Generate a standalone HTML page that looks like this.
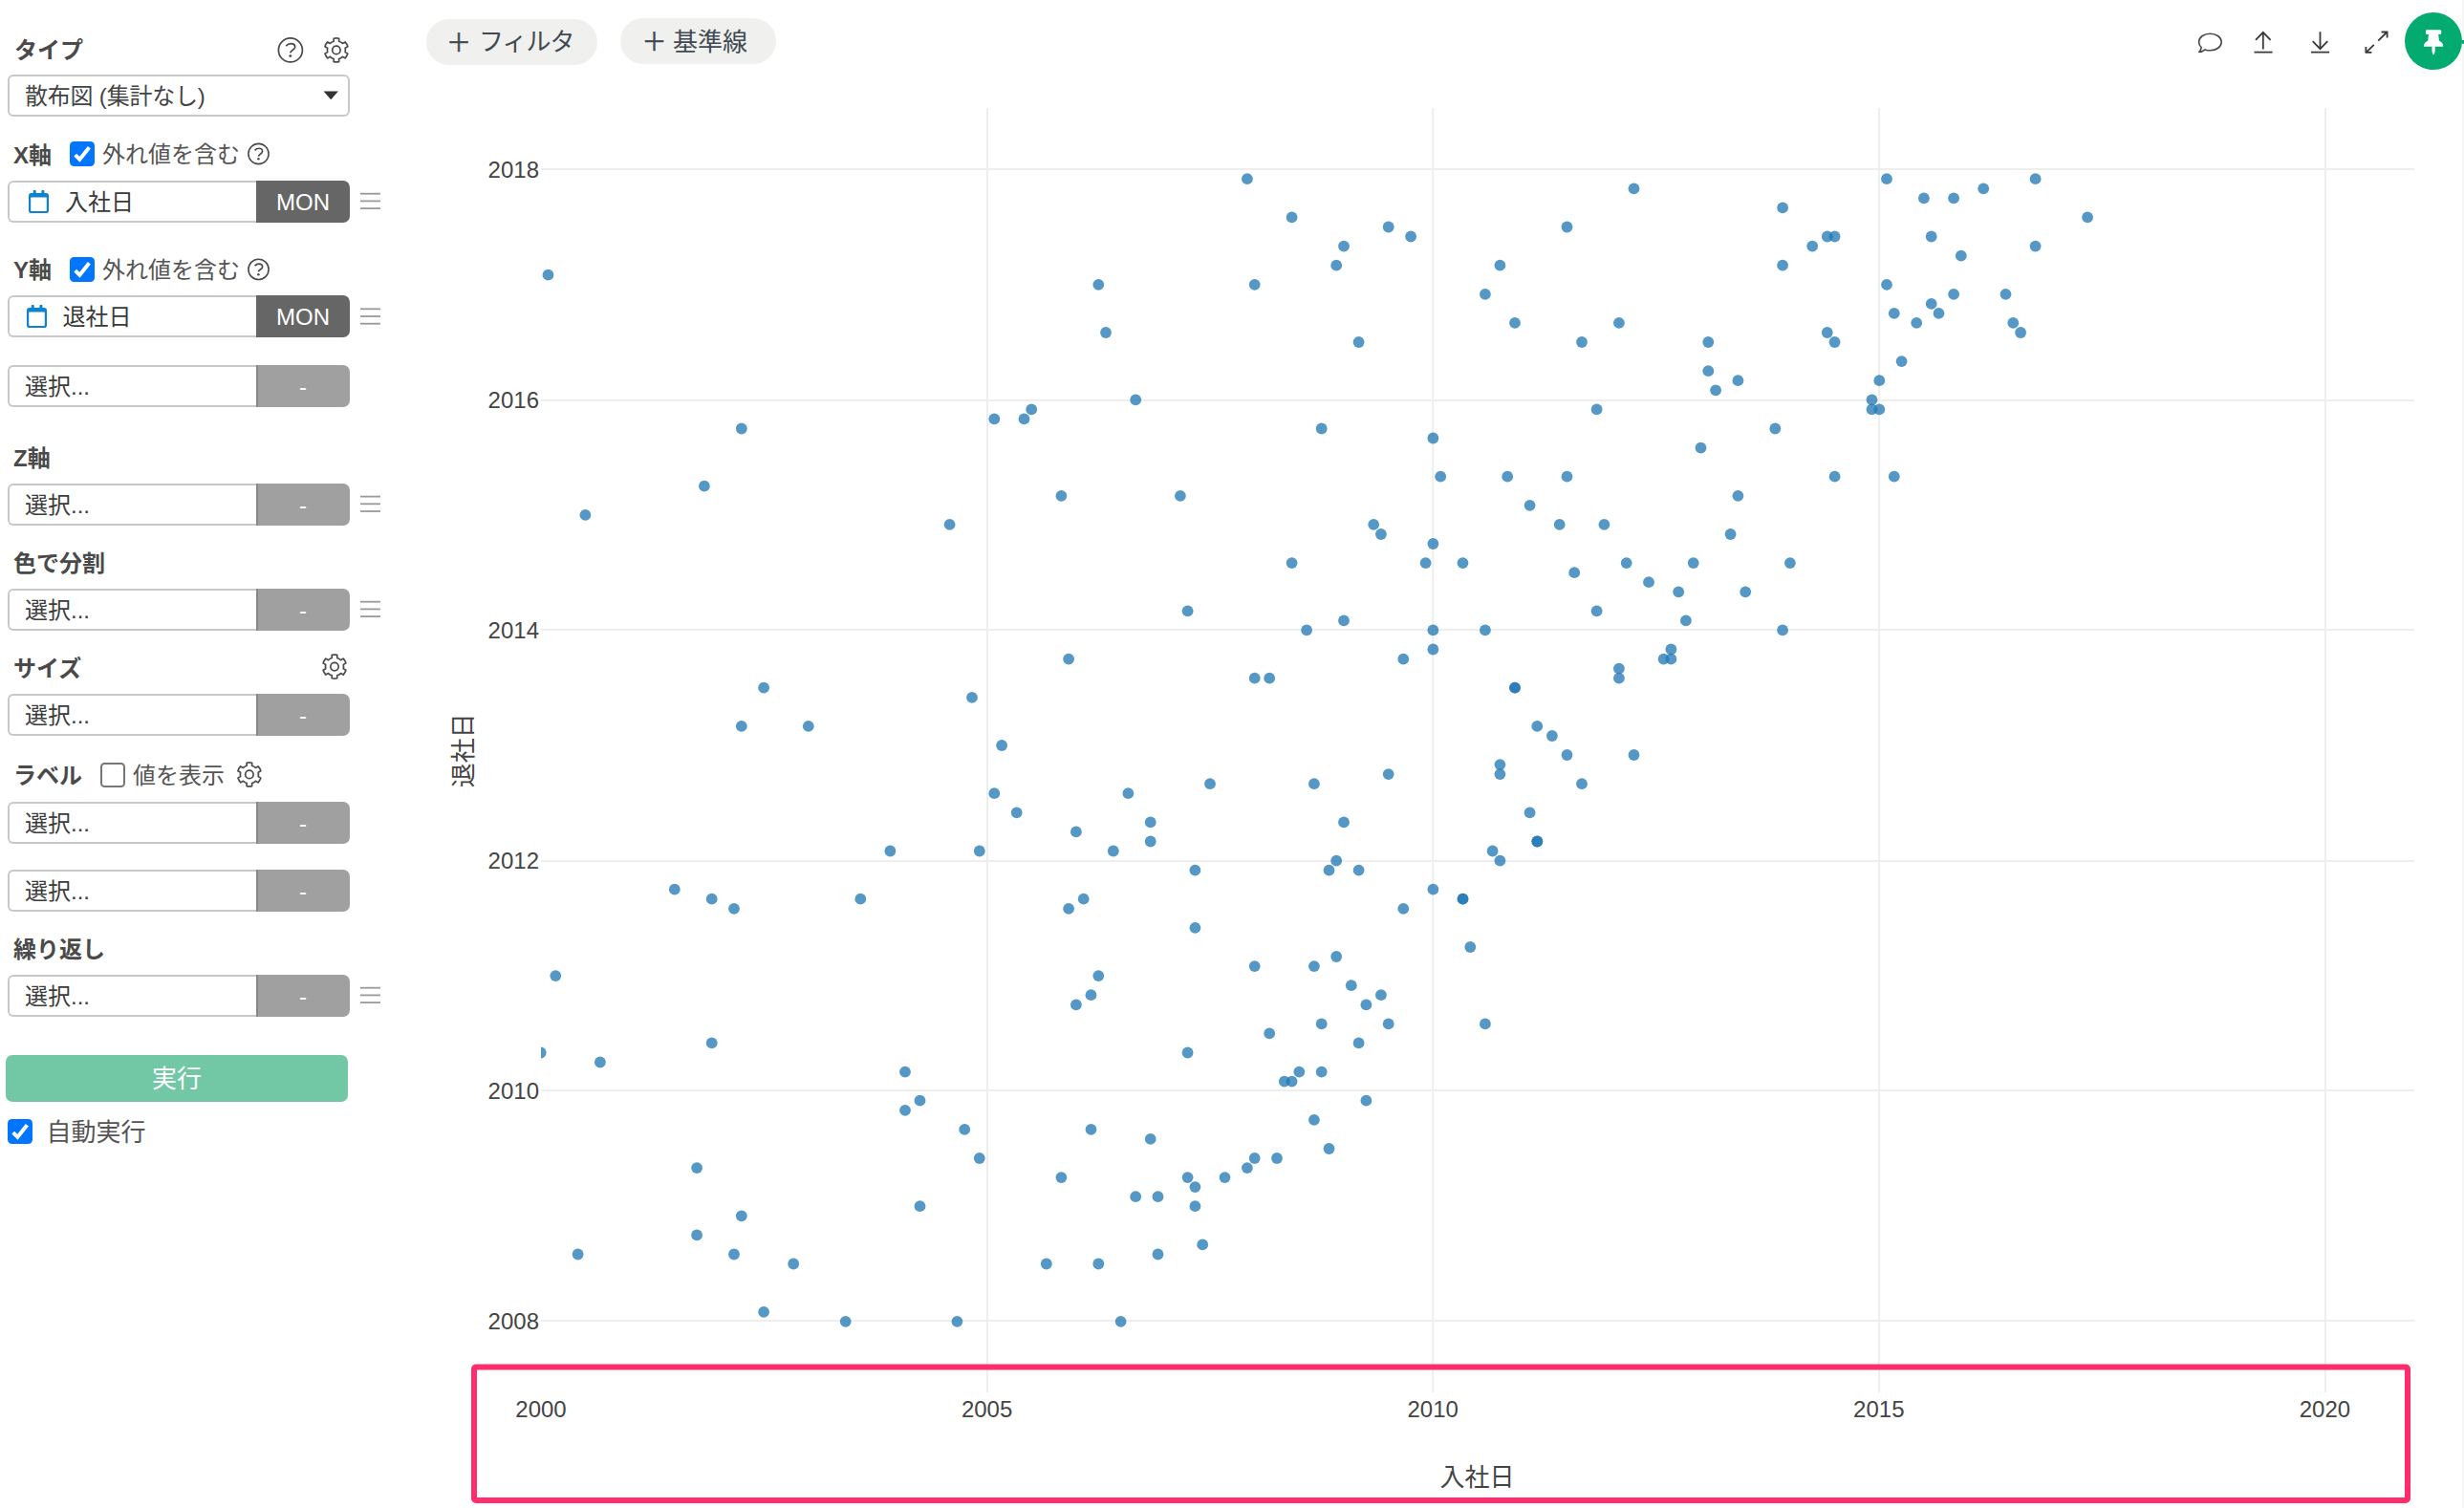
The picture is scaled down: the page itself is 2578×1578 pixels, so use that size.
<!DOCTYPE html><html lang="ja"><head><meta charset="utf-8"><title>散布図</title><style>
html,body{margin:0;padding:0;background:#fff}
body{width:2578px;height:1578px;position:relative;overflow:hidden;font-family:"Liberation Sans","Noto Sans CJK JP",sans-serif;color:#444}
.abs{position:absolute}
.lbl{position:absolute;font-weight:bold;font-size:24px;line-height:32px;height:32px;color:#4a4a4a;white-space:nowrap}
.txt{position:absolute;font-size:24px;line-height:32px;height:32px;color:#555;white-space:nowrap}
.fld{position:absolute;left:8px;width:358px;height:44px}
.fld .inp{position:absolute;left:0;top:0;width:260px;height:44px;box-sizing:border-box;border:2px solid #c8c8c8;border-right:none;border-radius:6px 0 0 6px;background:#fff;font-size:24px;line-height:43px;color:#3c3c3c;white-space:nowrap}
.fld .btn{position:absolute;left:260px;top:0;width:98px;height:44px;border-radius:0 7px 7px 0;background:#a0a0a0;color:#fff;font-size:24px;line-height:46px;text-align:center;box-sizing:border-box;border-left:2px solid #888;padding-right:2px}
.fld .btn.on{background:#666;border-left:none;padding-right:0}
.sel{position:absolute;left:8px;top:78px;width:358px;height:44px;box-sizing:border-box;border:2px solid #c8c8c8;border-radius:6px;background:#fff;font-size:24px;line-height:43px;color:#444;white-space:nowrap}
.cb{position:absolute;width:26px;height:26px;border-radius:4.5px;background:#0075ff}
.cb0{position:absolute;width:26px;height:26px;box-sizing:border-box;border-radius:4.5px;border:2px solid #767676;background:#fff}
.pill{position:absolute;height:48px;border-radius:24px;background:#f0f0ee;color:#414a52;font-size:26px;line-height:46px;white-space:nowrap}
.run{position:absolute;left:6px;top:1104px;width:358px;height:49px;border-radius:7px;background:#72c8a4;color:#fff;font-size:26px;line-height:51px;text-align:center}
</style></head><body>
<div class="lbl" style="left:15px;top:36.5px">タイプ</div>
<div class="sel"><span style="position:absolute;left:16px;top:-1px;letter-spacing:-0.2px">散布図 (集計なし)</span></div>
<div class="lbl" style="left:14px;top:146.5px">X軸</div>
<div class="cb" style="left:73px;top:148px"><svg width="26" height="26" viewBox="0 0 26 26" style="position:absolute;left:0;top:0"><path d="M5.7 14.1L10.4 18.8L20.4 6.2" fill="none" stroke="#fff" stroke-width="4" stroke-linecap="butt" stroke-linejoin="miter"/></svg></div>
<div class="txt" style="left:107px;top:146px">外れ値を含む</div>
<div class="fld" style="top:189px"><div class="inp"><span style="position:absolute;left:58px;top:-1px;color:#3a3a3a">入社日</span></div><div class="btn on">MON</div></div>
<div class="lbl" style="left:14px;top:267px">Y軸</div>
<div class="cb" style="left:73px;top:269px"><svg width="26" height="26" viewBox="0 0 26 26" style="position:absolute;left:0;top:0"><path d="M5.7 14.1L10.4 18.8L20.4 6.2" fill="none" stroke="#fff" stroke-width="4" stroke-linecap="butt" stroke-linejoin="miter"/></svg></div>
<div class="txt" style="left:107px;top:267px">外れ値を含む</div>
<div class="fld" style="top:309px"><div class="inp"><span style="position:absolute;left:55.5px;top:-1px;color:#3a3a3a">退社日</span></div><div class="btn on">MON</div></div>
<div class="fld" style="top:382px"><div class="inp"><span style="position:absolute;left:16px;top:-1px">選択...</span></div><div class="btn">-</div></div>
<div class="lbl" style="left:14px;top:464px">Z軸</div>
<div class="fld" style="top:506px"><div class="inp"><span style="position:absolute;left:16px;top:-1px">選択...</span></div><div class="btn">-</div></div>
<div class="lbl" style="left:14px;top:574px">色で分割</div>
<div class="fld" style="top:616px"><div class="inp"><span style="position:absolute;left:16px;top:-1px">選択...</span></div><div class="btn">-</div></div>
<div class="lbl" style="left:14px;top:683.5px">サイズ</div>
<div class="fld" style="top:726px"><div class="inp"><span style="position:absolute;left:16px;top:-1px">選択...</span></div><div class="btn">-</div></div>
<div class="lbl" style="left:14px;top:796px">ラベル</div>
<div class="cb0" style="left:105px;top:798px"></div>
<div class="txt" style="left:139px;top:796px">値を表示</div>
<div class="fld" style="top:839px"><div class="inp"><span style="position:absolute;left:16px;top:-1px">選択...</span></div><div class="btn">-</div></div>
<div class="fld" style="top:910px"><div class="inp"><span style="position:absolute;left:16px;top:-1px">選択...</span></div><div class="btn">-</div></div>
<div class="lbl" style="left:14px;top:978px">繰り返し</div>
<div class="fld" style="top:1020px"><div class="inp"><span style="position:absolute;left:16px;top:-1px">選択...</span></div><div class="btn">-</div></div>
<div class="run">実行</div>
<div class="cb" style="left:8px;top:1171px"><svg width="26" height="26" viewBox="0 0 26 26" style="position:absolute;left:0;top:0"><path d="M5.7 14.1L10.4 18.8L20.4 6.2" fill="none" stroke="#fff" stroke-width="4" stroke-linecap="butt" stroke-linejoin="miter"/></svg></div>
<div class="txt" style="left:48.5px;top:1168px;font-size:26px;line-height:34px;height:34px">自動実行</div>
<div class="pill" style="left:446px;top:20px;width:179px"><span style="position:absolute;left:21px;top:2px;-webkit-text-stroke:0.5px #414a52">＋</span><span style="position:absolute;left:55px;top:1px;letter-spacing:-1px">フィルタ</span></div>
<div class="pill" style="left:649px;top:19px;width:163px"><span style="position:absolute;left:22.5px;top:2px;-webkit-text-stroke:0.5px #414a52">＋</span><span style="position:absolute;left:55px;top:1.5px">基準線</span></div>
<svg class="abs" style="left:0;top:0" width="2578" height="1578" viewBox="0 0 2578 1578"><g stroke="#eeeeee" stroke-width="2" fill="none"><path d="M566 1382.0H2526"/><path d="M566 1141.0H2526"/><path d="M566 901.0H2526"/><path d="M566 659.0H2526"/><path d="M566 419.0H2526"/><path d="M566 177.0H2526"/><path d="M1033.0 113V1457"/><path d="M1499.2 113V1457"/><path d="M1966.0 113V1457"/><path d="M2433.0 113V1457"/></g><defs><clipPath id="pc"><rect x="566" y="113" width="1960" height="1344"/></clipPath></defs><g clip-path="url(#pc)" fill="#1f77b4" fill-opacity="0.76"><circle cx="565.7" cy="1101.5" r="5.9"/><circle cx="573.5" cy="287.7" r="5.9"/><circle cx="581.3" cy="1021.1" r="5.9"/><circle cx="604.6" cy="1312.5" r="5.9"/><circle cx="612.4" cy="538.9" r="5.9"/><circle cx="627.9" cy="1111.5" r="5.9"/><circle cx="705.8" cy="930.7" r="5.9"/><circle cx="729.1" cy="1292.4" r="5.9"/><circle cx="729.1" cy="1222.1" r="5.9"/><circle cx="736.9" cy="508.7" r="5.9"/><circle cx="744.7" cy="1091.4" r="5.9"/><circle cx="744.7" cy="940.7" r="5.9"/><circle cx="768.0" cy="1312.5" r="5.9"/><circle cx="768.0" cy="950.8" r="5.9"/><circle cx="775.8" cy="1272.3" r="5.9"/><circle cx="775.8" cy="759.9" r="5.9"/><circle cx="775.8" cy="448.5" r="5.9"/><circle cx="799.1" cy="1372.8" r="5.9"/><circle cx="799.1" cy="719.7" r="5.9"/><circle cx="830.2" cy="1322.5" r="5.9"/><circle cx="845.8" cy="759.9" r="5.9"/><circle cx="884.7" cy="1382.8" r="5.9"/><circle cx="900.3" cy="940.7" r="5.9"/><circle cx="931.4" cy="890.5" r="5.9"/><circle cx="947.0" cy="1161.8" r="5.9"/><circle cx="947.0" cy="1121.6" r="5.9"/><circle cx="962.5" cy="1262.2" r="5.9"/><circle cx="962.5" cy="1151.7" r="5.9"/><circle cx="993.6" cy="548.9" r="5.9"/><circle cx="1001.4" cy="1382.8" r="5.9"/><circle cx="1009.2" cy="1181.9" r="5.9"/><circle cx="1017.0" cy="729.8" r="5.9"/><circle cx="1024.8" cy="1212.0" r="5.9"/><circle cx="1024.8" cy="890.5" r="5.9"/><circle cx="1040.3" cy="830.2" r="5.9"/><circle cx="1040.3" cy="438.4" r="5.9"/><circle cx="1048.1" cy="780.0" r="5.9"/><circle cx="1063.7" cy="850.3" r="5.9"/><circle cx="1071.5" cy="438.4" r="5.9"/><circle cx="1079.2" cy="428.4" r="5.9"/><circle cx="1094.8" cy="1322.5" r="5.9"/><circle cx="1110.4" cy="1232.1" r="5.9"/><circle cx="1110.4" cy="518.8" r="5.9"/><circle cx="1118.1" cy="950.8" r="5.9"/><circle cx="1118.1" cy="689.6" r="5.9"/><circle cx="1125.9" cy="1051.3" r="5.9"/><circle cx="1125.9" cy="870.4" r="5.9"/><circle cx="1133.7" cy="940.7" r="5.9"/><circle cx="1141.5" cy="1181.9" r="5.9"/><circle cx="1141.5" cy="1041.2" r="5.9"/><circle cx="1149.3" cy="1322.5" r="5.9"/><circle cx="1149.3" cy="1021.1" r="5.9"/><circle cx="1149.3" cy="297.8" r="5.9"/><circle cx="1157.0" cy="348.0" r="5.9"/><circle cx="1164.8" cy="890.5" r="5.9"/><circle cx="1172.6" cy="1382.8" r="5.9"/><circle cx="1180.4" cy="830.2" r="5.9"/><circle cx="1188.2" cy="1252.2" r="5.9"/><circle cx="1188.2" cy="418.3" r="5.9"/><circle cx="1203.7" cy="1191.9" r="5.9"/><circle cx="1203.7" cy="880.5" r="5.9"/><circle cx="1203.7" cy="860.4" r="5.9"/><circle cx="1211.5" cy="1312.5" r="5.9"/><circle cx="1211.5" cy="1252.2" r="5.9"/><circle cx="1234.9" cy="518.8" r="5.9"/><circle cx="1242.6" cy="1232.1" r="5.9"/><circle cx="1242.6" cy="1101.5" r="5.9"/><circle cx="1242.6" cy="639.3" r="5.9"/><circle cx="1250.4" cy="1262.2" r="5.9"/><circle cx="1250.4" cy="1242.1" r="5.9"/><circle cx="1250.4" cy="970.9" r="5.9"/><circle cx="1250.4" cy="910.6" r="5.9"/><circle cx="1258.2" cy="1302.4" r="5.9"/><circle cx="1266.0" cy="820.2" r="5.9"/><circle cx="1281.5" cy="1232.1" r="5.9"/><circle cx="1304.9" cy="1222.1" r="5.9"/><circle cx="1304.9" cy="187.2" r="5.9"/><circle cx="1312.7" cy="1212.0" r="5.9"/><circle cx="1312.7" cy="1011.1" r="5.9"/><circle cx="1312.7" cy="709.7" r="5.9"/><circle cx="1312.7" cy="297.8" r="5.9"/><circle cx="1328.2" cy="1081.4" r="5.9"/><circle cx="1328.2" cy="709.7" r="5.9"/><circle cx="1336.0" cy="1212.0" r="5.9"/><circle cx="1343.8" cy="1131.6" r="5.9"/><circle cx="1351.6" cy="1131.6" r="5.9"/><circle cx="1351.6" cy="589.1" r="5.9"/><circle cx="1351.6" cy="227.4" r="5.9"/><circle cx="1359.3" cy="1121.6" r="5.9"/><circle cx="1367.1" cy="659.4" r="5.9"/><circle cx="1374.9" cy="1171.8" r="5.9"/><circle cx="1374.9" cy="1011.1" r="5.9"/><circle cx="1374.9" cy="820.2" r="5.9"/><circle cx="1382.7" cy="1121.6" r="5.9"/><circle cx="1382.7" cy="1071.4" r="5.9"/><circle cx="1382.7" cy="448.5" r="5.9"/><circle cx="1390.5" cy="1202.0" r="5.9"/><circle cx="1390.5" cy="910.6" r="5.9"/><circle cx="1398.2" cy="1001.0" r="5.9"/><circle cx="1398.2" cy="900.6" r="5.9"/><circle cx="1398.2" cy="277.7" r="5.9"/><circle cx="1406.0" cy="860.4" r="5.9"/><circle cx="1406.0" cy="649.4" r="5.9"/><circle cx="1406.0" cy="257.6" r="5.9"/><circle cx="1413.8" cy="1031.2" r="5.9"/><circle cx="1421.6" cy="1091.4" r="5.9"/><circle cx="1421.6" cy="910.6" r="5.9"/><circle cx="1421.6" cy="358.0" r="5.9"/><circle cx="1429.4" cy="1151.7" r="5.9"/><circle cx="1429.4" cy="1051.3" r="5.9"/><circle cx="1437.2" cy="548.9" r="5.9"/><circle cx="1444.9" cy="1041.2" r="5.9"/><circle cx="1444.9" cy="559.0" r="5.9"/><circle cx="1452.7" cy="1071.4" r="5.9"/><circle cx="1452.7" cy="810.1" r="5.9"/><circle cx="1452.7" cy="237.5" r="5.9"/><circle cx="1468.3" cy="950.8" r="5.9"/><circle cx="1468.3" cy="689.6" r="5.9"/><circle cx="1476.1" cy="247.5" r="5.9"/><circle cx="1491.6" cy="589.1" r="5.9"/><circle cx="1499.4" cy="930.7" r="5.9"/><circle cx="1499.4" cy="679.5" r="5.9"/><circle cx="1499.4" cy="659.4" r="5.9"/><circle cx="1499.4" cy="569.0" r="5.9"/><circle cx="1499.4" cy="458.5" r="5.9"/><circle cx="1507.2" cy="498.7" r="5.9"/><circle cx="1530.5" cy="940.7" r="5.9"/><circle cx="1530.5" cy="940.7" r="5.9"/><circle cx="1530.5" cy="589.1" r="5.9"/><circle cx="1538.3" cy="991.0" r="5.9"/><circle cx="1553.9" cy="1071.4" r="5.9"/><circle cx="1553.9" cy="659.4" r="5.9"/><circle cx="1553.9" cy="307.8" r="5.9"/><circle cx="1561.6" cy="890.5" r="5.9"/><circle cx="1569.4" cy="900.6" r="5.9"/><circle cx="1569.4" cy="810.1" r="5.9"/><circle cx="1569.4" cy="800.1" r="5.9"/><circle cx="1569.4" cy="277.7" r="5.9"/><circle cx="1577.2" cy="498.7" r="5.9"/><circle cx="1585.0" cy="719.7" r="5.9"/><circle cx="1585.0" cy="719.7" r="5.9"/><circle cx="1585.0" cy="337.9" r="5.9"/><circle cx="1600.6" cy="850.3" r="5.9"/><circle cx="1600.6" cy="528.8" r="5.9"/><circle cx="1608.3" cy="880.5" r="5.9"/><circle cx="1608.3" cy="880.5" r="5.9"/><circle cx="1608.3" cy="759.9" r="5.9"/><circle cx="1623.9" cy="770.0" r="5.9"/><circle cx="1631.7" cy="548.9" r="5.9"/><circle cx="1639.5" cy="790.0" r="5.9"/><circle cx="1639.5" cy="498.7" r="5.9"/><circle cx="1639.5" cy="237.5" r="5.9"/><circle cx="1647.2" cy="599.2" r="5.9"/><circle cx="1655.0" cy="820.2" r="5.9"/><circle cx="1655.0" cy="358.0" r="5.9"/><circle cx="1670.6" cy="639.3" r="5.9"/><circle cx="1670.6" cy="428.4" r="5.9"/><circle cx="1678.4" cy="548.9" r="5.9"/><circle cx="1693.9" cy="709.7" r="5.9"/><circle cx="1693.9" cy="699.6" r="5.9"/><circle cx="1693.9" cy="337.9" r="5.9"/><circle cx="1701.7" cy="589.1" r="5.9"/><circle cx="1709.5" cy="790.0" r="5.9"/><circle cx="1709.5" cy="197.3" r="5.9"/><circle cx="1725.0" cy="609.2" r="5.9"/><circle cx="1740.6" cy="689.6" r="5.9"/><circle cx="1748.4" cy="689.6" r="5.9"/><circle cx="1748.4" cy="679.5" r="5.9"/><circle cx="1756.2" cy="619.3" r="5.9"/><circle cx="1763.9" cy="649.4" r="5.9"/><circle cx="1771.7" cy="589.1" r="5.9"/><circle cx="1779.5" cy="468.6" r="5.9"/><circle cx="1787.3" cy="388.2" r="5.9"/><circle cx="1787.3" cy="358.0" r="5.9"/><circle cx="1795.1" cy="408.3" r="5.9"/><circle cx="1810.6" cy="559.0" r="5.9"/><circle cx="1818.4" cy="518.8" r="5.9"/><circle cx="1818.4" cy="398.2" r="5.9"/><circle cx="1826.2" cy="619.3" r="5.9"/><circle cx="1857.3" cy="448.5" r="5.9"/><circle cx="1865.1" cy="659.4" r="5.9"/><circle cx="1865.1" cy="277.7" r="5.9"/><circle cx="1865.1" cy="217.4" r="5.9"/><circle cx="1872.9" cy="589.1" r="5.9"/><circle cx="1896.2" cy="257.6" r="5.9"/><circle cx="1911.8" cy="348.0" r="5.9"/><circle cx="1911.8" cy="247.5" r="5.9"/><circle cx="1919.6" cy="498.7" r="5.9"/><circle cx="1919.6" cy="358.0" r="5.9"/><circle cx="1919.6" cy="247.5" r="5.9"/><circle cx="1958.5" cy="428.4" r="5.9"/><circle cx="1958.5" cy="418.3" r="5.9"/><circle cx="1966.3" cy="428.4" r="5.9"/><circle cx="1966.3" cy="398.2" r="5.9"/><circle cx="1974.0" cy="297.8" r="5.9"/><circle cx="1974.0" cy="187.2" r="5.9"/><circle cx="1981.8" cy="498.7" r="5.9"/><circle cx="1981.8" cy="327.9" r="5.9"/><circle cx="1989.6" cy="378.1" r="5.9"/><circle cx="2005.2" cy="337.9" r="5.9"/><circle cx="2012.9" cy="207.3" r="5.9"/><circle cx="2020.7" cy="317.9" r="5.9"/><circle cx="2020.7" cy="247.5" r="5.9"/><circle cx="2028.5" cy="327.9" r="5.9"/><circle cx="2044.1" cy="307.8" r="5.9"/><circle cx="2044.1" cy="207.3" r="5.9"/><circle cx="2051.8" cy="267.6" r="5.9"/><circle cx="2075.2" cy="197.3" r="5.9"/><circle cx="2098.5" cy="307.8" r="5.9"/><circle cx="2106.3" cy="337.9" r="5.9"/><circle cx="2114.1" cy="348.0" r="5.9"/><circle cx="2129.6" cy="257.6" r="5.9"/><circle cx="2129.6" cy="187.2" r="5.9"/><circle cx="2184.1" cy="227.4" r="5.9"/></g><g font-family="Liberation Sans, Arial, sans-serif" font-size="24" fill="#444444"><text x="564" y="1391.1" text-anchor="end">2008</text><text x="564" y="1150.1" text-anchor="end">2010</text><text x="564" y="909.1" text-anchor="end">2012</text><text x="564" y="668.2" text-anchor="end">2014</text><text x="564" y="427.2" text-anchor="end">2016</text><text x="564" y="186.2" text-anchor="end">2018</text><text x="566.0" y="1483.2" text-anchor="middle">2000</text><text x="1032.6" y="1483.2" text-anchor="middle">2005</text><text x="1499.2" y="1483.2" text-anchor="middle">2010</text><text x="1965.8" y="1483.2" text-anchor="middle">2015</text><text x="2432.4" y="1483.2" text-anchor="middle">2020</text></g><g font-family="Liberation Sans, Noto Sans CJK JP, sans-serif" font-size="26" fill="#444444"><text x="1545.5" y="1555" text-anchor="middle">入社日</text><text transform="translate(493.5,785.3) rotate(-90)" text-anchor="middle">退社日</text></g><rect x="496" y="1430.5" width="2023" height="139.5" rx="2" fill="none" stroke="#ff2d6c" stroke-width="6"/><g fill="none" stroke="#3a3a3a" stroke-width="1.8" stroke-linecap="butt" stroke-linejoin="miter"><path d="M2367.8 51.5V34M2360 41.8L2367.8 33.8L2375.6 41.8M2358.5 54.7H2377.6"/><path d="M2427.5 33.3V50.8M2419.7 43.2L2427.5 51.2L2435.3 43.2M2418 54.7H2437.1"/><path d="M2475.6 54.8L2483.8 46.9M2488.2 42.6L2497.5 33.5M2491.6 33.5H2497.6V39.5M2481.4 54.9H2475.4V48.9"/></g><path d="M2312.4 35.2C2319 35.2 2324.2 39.1 2324.2 44C2324.2 48.9 2319 52.8 2312.4 52.8C2310.4 52.8 2308.6 52.5 2307 51.9C2305.4 53.4 2303.2 54.4 2300.8 54.5C2302.2 53.1 2303 51.4 2303.2 49.6C2301.6 48.1 2300.6 46.1 2300.6 44C2300.6 39.1 2305.8 35.2 2312.4 35.2Z" fill="none" stroke="#4a4a4a" stroke-width="1.6" stroke-linejoin="round"/><rect x="2576.2" y="0" width="1.8" height="1578" fill="#f6f6f6"/><circle cx="2546" cy="43" r="30" fill="#03ab70"/><rect x="2575.8" y="42" width="2.4" height="3.8" fill="#03ab70"/><path d="M2538 32.6Q2538 31.3 2539.3 31.3H2552.9Q2554.2 31.3 2554.2 32.6V34.7Q2554.2 36 2552.9 36H2551.2L2552 42.8Q2556.2 44.8 2556.2 48.2Q2556.2 48.7 2555.6 48.7H2547.7V54L2546.4 57.2Q2546.1 57.7 2545.8 57.2L2544.5 54V48.7H2536.6Q2536 48.7 2536 48.2Q2536 44.8 2540.2 42.8L2541 36H2539.3Q2538 36 2538 34.7Z" fill="#ffffff"/><circle cx="303.90" cy="52.40" r="12.50" fill="none" stroke="#4a4a4a" stroke-width="1.70"/><path d="M299.30 48.10 C300.90 46.20 302.70 45.60 304.30 45.60 C307.10 45.60 308.70 47.20 308.70 49.20 C308.70 52.70 304.10 52.40 303.80 55.40" fill="none" stroke="#4a4a4a" stroke-width="1.78" stroke-linecap="butt"/><circle cx="303.80" cy="58.60" r="1.45" fill="#4a4a4a"/><path d="M354.65 43.31L354.65 40.21A12.50 12.50 0 0 0 349.15 40.21L349.15 43.31A9.50 9.50 0 0 0 345.40 45.47L342.71 43.92A12.50 12.50 0 0 0 339.96 48.68L342.65 50.23A9.50 9.50 0 0 0 342.65 54.57L339.96 56.12A12.50 12.50 0 0 0 342.71 60.88L345.40 59.33A9.50 9.50 0 0 0 349.15 61.49L349.15 64.59A12.50 12.50 0 0 0 354.65 64.59L354.65 61.49A9.50 9.50 0 0 0 358.40 59.33L361.09 60.88A12.50 12.50 0 0 0 363.84 56.12L361.15 54.57A9.50 9.50 0 0 0 361.15 50.23L363.84 48.68A12.50 12.50 0 0 0 361.09 43.92L358.40 45.47A9.50 9.50 0 0 0 354.65 43.31 Z" fill="none" stroke="#4a4a4a" stroke-width="1.70" stroke-linejoin="round"/><circle cx="351.90" cy="52.40" r="4.20" fill="none" stroke="#4a4a4a" stroke-width="1.70"/><circle cx="270.50" cy="161.00" r="10.60" fill="none" stroke="#4a4a4a" stroke-width="1.60"/><path d="M266.59 157.34 C267.95 155.73 269.48 155.22 270.84 155.22 C273.22 155.22 274.58 156.58 274.58 158.28 C274.58 161.25 270.67 161.00 270.42 163.55" fill="none" stroke="#4a4a4a" stroke-width="1.68" stroke-linecap="butt"/><circle cx="270.42" cy="166.27" r="1.23" fill="#4a4a4a"/><circle cx="270.50" cy="281.90" r="10.60" fill="none" stroke="#4a4a4a" stroke-width="1.60"/><path d="M266.59 278.25 C267.95 276.63 269.48 276.12 270.84 276.12 C273.22 276.12 274.58 277.48 274.58 279.18 C274.58 282.15 270.67 281.90 270.42 284.45" fill="none" stroke="#4a4a4a" stroke-width="1.68" stroke-linecap="butt"/><circle cx="270.42" cy="287.17" r="1.23" fill="#4a4a4a"/><path d="M352.75 688.51L352.75 685.41A12.50 12.50 0 0 0 347.25 685.41L347.25 688.51A9.50 9.50 0 0 0 343.50 690.67L340.81 689.12A12.50 12.50 0 0 0 338.06 693.88L340.75 695.43A9.50 9.50 0 0 0 340.75 699.77L338.06 701.32A12.50 12.50 0 0 0 340.81 706.08L343.50 704.53A9.50 9.50 0 0 0 347.25 706.69L347.25 709.79A12.50 12.50 0 0 0 352.75 709.79L352.75 706.69A9.50 9.50 0 0 0 356.50 704.53L359.19 706.08A12.50 12.50 0 0 0 361.94 701.32L359.25 699.77A9.50 9.50 0 0 0 359.25 695.43L361.94 693.88A12.50 12.50 0 0 0 359.19 689.12L356.50 690.67A9.50 9.50 0 0 0 352.75 688.51 Z" fill="none" stroke="#4a4a4a" stroke-width="1.70" stroke-linejoin="round"/><circle cx="350.00" cy="697.60" r="4.20" fill="none" stroke="#4a4a4a" stroke-width="1.70"/><path d="M263.65 801.31L263.65 798.21A12.50 12.50 0 0 0 258.15 798.21L258.15 801.31A9.50 9.50 0 0 0 254.40 803.47L251.71 801.92A12.50 12.50 0 0 0 248.96 806.68L251.65 808.23A9.50 9.50 0 0 0 251.65 812.57L248.96 814.12A12.50 12.50 0 0 0 251.71 818.88L254.40 817.33A9.50 9.50 0 0 0 258.15 819.49L258.15 822.59A12.50 12.50 0 0 0 263.65 822.59L263.65 819.49A9.50 9.50 0 0 0 267.40 817.33L270.09 818.88A12.50 12.50 0 0 0 272.84 814.12L270.15 812.57A9.50 9.50 0 0 0 270.15 808.23L272.84 806.68A12.50 12.50 0 0 0 270.09 801.92L267.40 803.47A9.50 9.50 0 0 0 263.65 801.31 Z" fill="none" stroke="#4a4a4a" stroke-width="1.70" stroke-linejoin="round"/><circle cx="260.90" cy="810.40" r="4.20" fill="none" stroke="#4a4a4a" stroke-width="1.70"/><rect x="30.00" y="201.90" width="21" height="21.2" rx="2.8" fill="#0d83ce"/><rect x="32.20" y="206.50" width="16.6" height="14.4" rx="0.7" fill="#fff"/><rect x="34.70" y="198.90" width="3" height="4.5" rx="0.8" fill="#0d83ce"/><rect x="43.40" y="198.90" width="3" height="4.5" rx="0.8" fill="#0d83ce"/><rect x="28.00" y="321.90" width="21" height="21.2" rx="2.8" fill="#0d83ce"/><rect x="30.20" y="326.50" width="16.6" height="14.4" rx="0.7" fill="#fff"/><rect x="32.70" y="318.90" width="3" height="4.5" rx="0.8" fill="#0d83ce"/><rect x="41.40" y="318.90" width="3" height="4.5" rx="0.8" fill="#0d83ce"/><rect x="377.0" y="201.80" width="21" height="1.8" fill="#9a9a9a"/><rect x="377.0" y="209.50" width="21" height="1.8" fill="#9a9a9a"/><rect x="377.0" y="217.20" width="21" height="1.8" fill="#9a9a9a"/><rect x="377.0" y="322.40" width="21" height="1.8" fill="#9a9a9a"/><rect x="377.0" y="330.10" width="21" height="1.8" fill="#9a9a9a"/><rect x="377.0" y="337.80" width="21" height="1.8" fill="#9a9a9a"/><rect x="377.0" y="518.70" width="21" height="1.8" fill="#9a9a9a"/><rect x="377.0" y="526.40" width="21" height="1.8" fill="#9a9a9a"/><rect x="377.0" y="534.10" width="21" height="1.8" fill="#9a9a9a"/><rect x="377.0" y="628.80" width="21" height="1.8" fill="#9a9a9a"/><rect x="377.0" y="636.50" width="21" height="1.8" fill="#9a9a9a"/><rect x="377.0" y="644.20" width="21" height="1.8" fill="#9a9a9a"/><rect x="377.0" y="1032.80" width="21" height="1.8" fill="#9a9a9a"/><rect x="377.0" y="1040.50" width="21" height="1.8" fill="#9a9a9a"/><rect x="377.0" y="1048.20" width="21" height="1.8" fill="#9a9a9a"/><path d="M338.6 95.6H353.9L346.25 104.2Z" fill="#333"/></svg>
</body></html>
